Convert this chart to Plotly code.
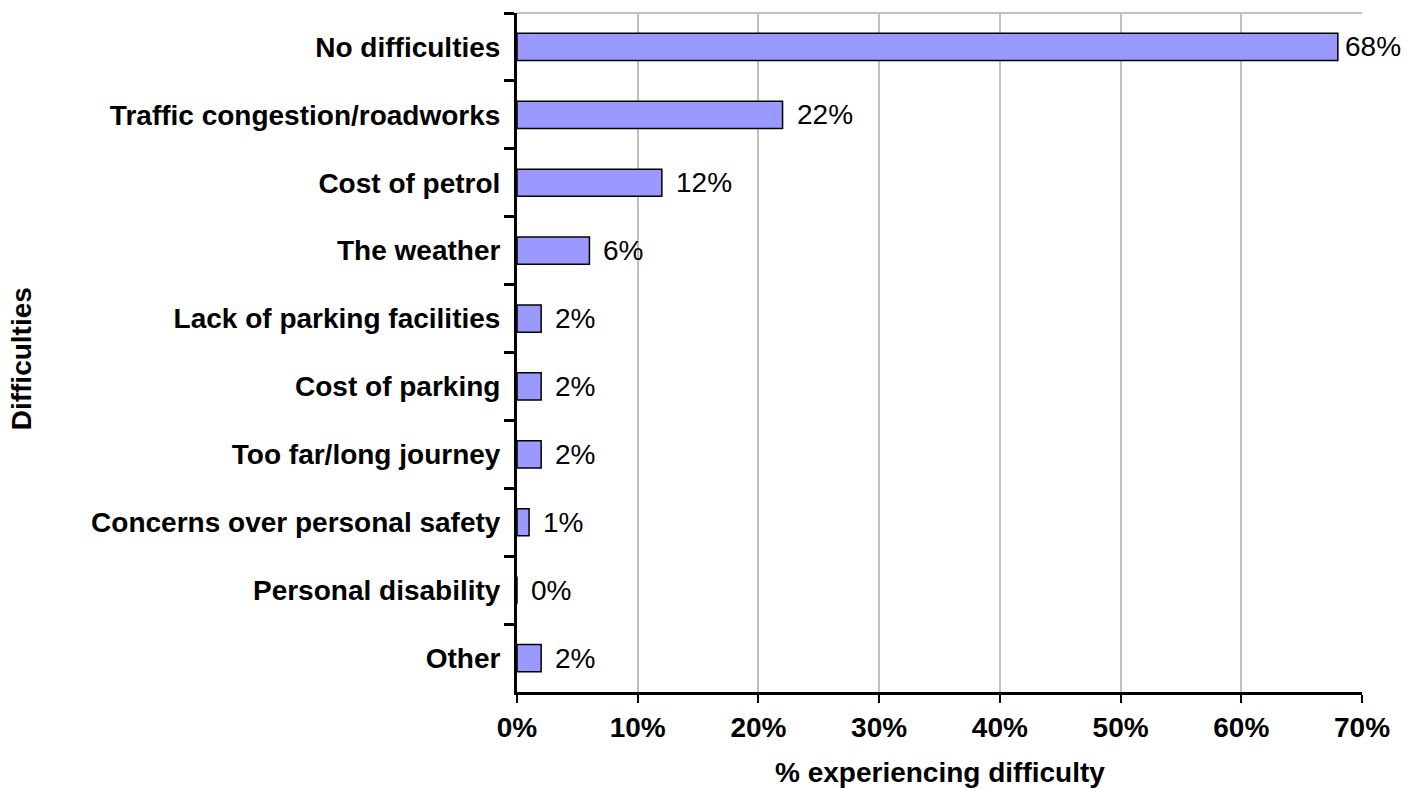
import plotly.graph_objects as go

categories = ["No difficulties", "Traffic congestion/roadworks", "Cost of petrol", "The weather",
              "Lack of parking facilities", "Cost of parking", "Too far/long journey",
              "Concerns over personal safety", "Personal disability", "Other"]
values = [68, 22, 12, 6, 2, 2, 2, 1, 0, 2]
labels = [f"{v}%" for v in values]
x_ticks = [0, 10, 20, 30, 40, 50, 60, 70]
x_ticktext = [f"{t}%" for t in x_ticks]

FONT = "Liberation Sans, Arial, sans-serif"
FS = 28

W, H = 1418, 789
L, T = 517, 13
PW, PH = 845, 679

fig = go.Figure(go.Bar(
    x=values, y=categories, orientation="h",
    marker=dict(color="#9999FF", line=dict(color="black", width=1.5)),
    width=0.4,
))

ann = [dict(x=v, y=c, text=t, xref="x", yref="y", showarrow=False,
            xanchor="left", yanchor="middle", xshift=12 if v < 60 else 5,
            font=dict(family=FONT, size=FS, color="black"))
       for v, c, t in zip(values, categories, labels)]

ann.append(dict(text="<b>Difficulties</b>", xref="paper", yref="paper",
                x=-(L - 21) / PW, y=0.49, textangle=-90, showarrow=False,
                xanchor="center", yanchor="middle",
                font=dict(family=FONT, size=FS, color="black")))
ann.append(dict(text="<b>% experiencing difficulty</b>", xref="paper", yref="paper",
                x=0.5, y=-80 / PH, showarrow=False,
                xanchor="center", yanchor="middle",
                font=dict(family=FONT, size=FS, color="black")))

fig.update_layout(
    width=W, height=H,
    margin=dict(l=L, r=W - L - PW, t=T, b=H - T - PH),
    paper_bgcolor="white", plot_bgcolor="white",
    showlegend=False,
    font=dict(family=FONT, size=FS, color="black"),
    xaxis=dict(
        range=[0, 70], tickvals=x_ticks, ticktext=x_ticktext,
        showgrid=True, gridcolor="#c0c0c0", gridwidth=2,
        showline=True, linecolor="black", linewidth=3,
        ticks="outside", ticklen=8, tickwidth=2, tickcolor="black",
        tickfont=dict(family=FONT, size=FS, color="black", weight="bold"),
        zeroline=False, fixedrange=True, automargin=False,
    ),
    yaxis=dict(
        autorange="reversed",
        showline=True, linecolor="black", linewidth=3,
        ticks="outside", ticklen=10, tickwidth=3, tickcolor="black",
        tickson="boundaries", ticklabelstandoff=8,
        tickfont=dict(family=FONT, size=FS, color="black", weight="bold"),
        showgrid=False, automargin=False, fixedrange=True,
    ),
    shapes=[dict(type="line", xref="paper", yref="paper", x0=0, x1=1, y0=1, y1=1,
                 line=dict(color="#c0c0c0", width=2))],
    annotations=ann,
)

fig.write_html("out.html", config={"displayModeBar": False},
               post_script="document.body.style.margin='0';document.body.style.overflow='hidden';")
